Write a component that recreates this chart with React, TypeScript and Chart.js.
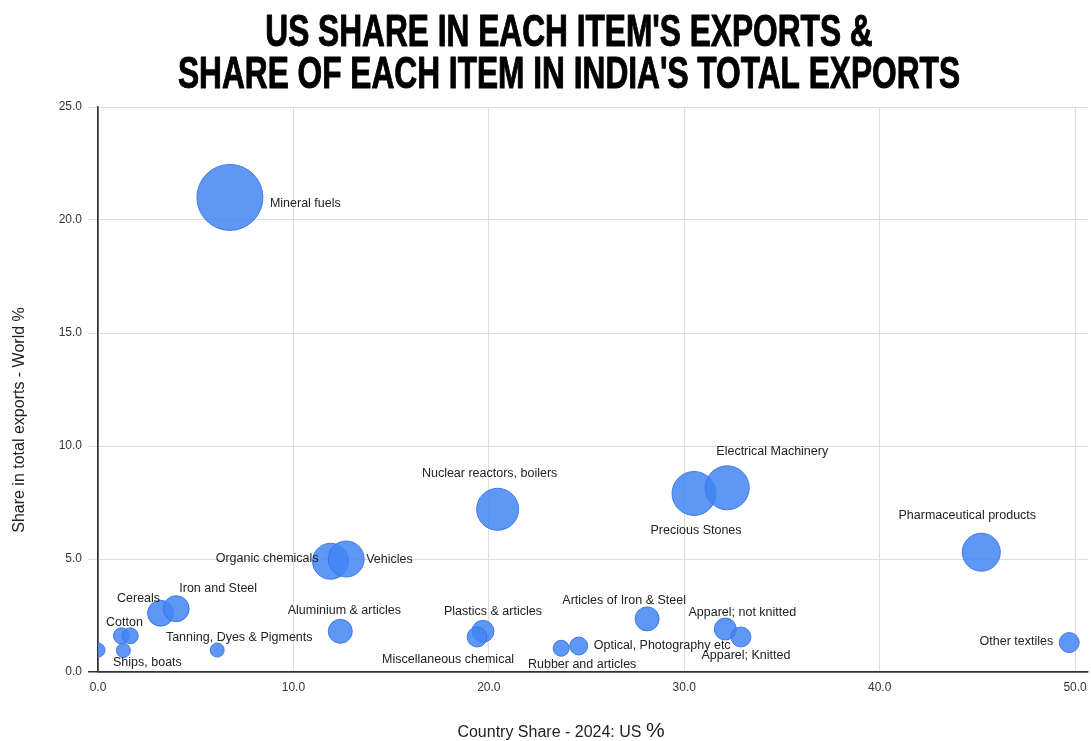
import React, { useEffect, useRef } from 'react';
import { Chart, registerables } from 'chart.js';

Chart.register(...registerables);

const TITLE_LINES = ["US SHARE IN EACH ITEM'S EXPORTS &", "SHARE OF EACH ITEM IN INDIA'S TOTAL EXPORTS"];
const X_TITLE = 'Country Share - 2024: US';
const X_TITLE_UNIT = '%';
const Y_TITLE = 'Share in total exports - World %';

const items = [
  'Mineral fuels',
  'Nuclear reactors, boilers',
  'Precious Stones',
  'Electrical Machinery',
  'Pharmaceutical products',
  'Organic chemicals',
  'Vehicles',
  'Cereals',
  'Iron and Steel',
  'Cotton',
  '',
  'Ships, boats',
  '',
  'Tanning, Dyes & Pigments',
  'Aluminium & articles',
  'Plastics & articles',
  'Miscellaneous chemical',
  'Rubber and articles',
  'Optical, Photography etc',
  'Articles of Iron & Steel',
  'Apparel; not knitted',
  'Apparel; Knitted',
  'Other textiles',
];

// Country share - 2024: US %
const usShare = [6.75, 20.45, 30.5, 32.2, 45.2, 11.9, 12.7, 3.2, 4.0, 1.2, 1.65, 1.3, 0.0, 6.1, 12.4, 19.7, 19.4, 23.7, 24.6, 28.1, 32.1, 32.9, 49.7];
// Share in total exports - World %
const worldShare = [21.0, 7.2, 7.9, 8.15, 5.3, 4.9, 5.0, 2.6, 2.8, 1.6, 1.6, 0.95, 0.97, 0.97, 1.8, 1.8, 1.55, 1.05, 1.15, 2.35, 1.9, 1.55, 1.3];
// relative bubble size
const bubbleSize = [33, 21, 22, 22, 19, 18, 18, 13, 13, 8, 8, 7, 7, 7, 12, 11, 10, 8, 9, 12, 11, 10, 10];

const xTicks = [0, 10, 20, 30, 40, 50];
const yTicks = [0, 5, 10, 15, 20, 25];

// label placement relative to bubble centre: [dx, dy, align]
const labelPlacement: [number, number, CanvasTextAlign][] = [
  [40, 6, 'left'],
  [-8, -36, 'center'],
  [2, 37, 'center'],
  [45, -36, 'center'],
  [-14, -37, 'center'],
  [-12, -3, 'right'],
  [20, 1, 'left'],
  [-22, -15, 'center'],
  [42, -20, 'center'],
  [3, -13, 'center'],
  [0, 0, 'center'],
  [24, 12, 'center'],
  [0, 0, 'center'],
  [22, -13, 'center'],
  [4, -21, 'center'],
  [10, -20, 'center'],
  [-29, 23, 'center'],
  [21, 16, 'center'],
  [15, 0, 'left'],
  [-23, -18, 'center'],
  [17, -17, 'center'],
  [5, 19, 'center'],
  [-16, -1, 'right'],
];

const FONT = '"Liberation Sans", Arial, sans-serif';

const annotPlugin = {
  id: 'annot',
  afterDatasetsDraw(chart: any) {
    const ctx = chart.ctx as CanvasRenderingContext2D;
    const meta = chart.getDatasetMeta(0);
    ctx.save();
    ctx.font = `12.5px ${FONT}`;
    ctx.fillStyle = '#222';
    ctx.textBaseline = 'middle';
    meta.data.forEach((el: any, i: number) => {
      const txt = items[i];
      if (!txt) return;
      const [dx, dy, align] = labelPlacement[i];
      ctx.textAlign = align;
      ctx.fillText(txt, el.x + dx, el.y + dy);
    });
    ctx.restore();
  },
  afterDraw(chart: any) {
    const ctx = chart.ctx as CanvasRenderingContext2D;
    ctx.save();
    // Title (condensed bold)
    ctx.font = `bold 44px "Liberation Sans", Arial, sans-serif`;
    ctx.fillStyle = '#000';
    ctx.textBaseline = 'alphabetic';
    ctx.textAlign = 'center';
    const w2 = ctx.measureText(TITLE_LINES[1]).width;
    const sx = 782 / w2;
    const cx = 569;
    const baselines = [46, 88];
    TITLE_LINES.forEach((line, i) => {
      ctx.save();
      ctx.translate(cx, baselines[i]);
      ctx.scale(sx, 1);
      ctx.lineWidth = 1;
      ctx.strokeStyle = '#000';
      ctx.lineJoin = 'round';
      ctx.strokeText(line, 0, 0);
      ctx.fillText(line, 0, 0);
      ctx.restore();
    });

    // X axis title
    ctx.fillStyle = '#222';
    ctx.textAlign = 'left';
    ctx.font = `16px ${FONT}`;
    const mainW = ctx.measureText(X_TITLE + ' ').width;
    ctx.font = `21px ${FONT}`;
    const unitW = ctx.measureText(X_TITLE_UNIT).width;
    const startX = 561 - (mainW + unitW) / 2;
    ctx.font = `16px ${FONT}`;
    ctx.fillText(X_TITLE + ' ', startX, 737);
    ctx.font = `21px ${FONT}`;
    ctx.fillText(X_TITLE_UNIT, startX + mainW, 737);

    // Y axis title
    ctx.font = `16px ${FONT}`;
    ctx.textAlign = 'center';
    ctx.textBaseline = 'middle';
    ctx.translate(20, 420);
    ctx.rotate(-Math.PI / 2);
    ctx.fillText(Y_TITLE, 0, 0);
    ctx.restore();
  },
};

export default function App() {
  const ref = useRef<HTMLCanvasElement | null>(null);
  useEffect(() => {
    document.body.style.margin = '0';
    const canvas = ref.current!;
    const data = items.map((_, i) => ({ x: usShare[i], y: worldShare[i], r: bubbleSize[i] }));
    const dark = '#333';
    const light = '#dcdcdc';
    const chart = new Chart(canvas, {
      type: 'bubble',
      data: {
        datasets: [
          {
            label: 'Items',
            data,
            backgroundColor: 'rgba(66, 133, 244, 0.85)',
            borderColor: 'rgba(55, 115, 225, 0.9)',
            borderWidth: 1,
          },
        ],
      },
      options: {
        responsive: false,
        animation: false,
        devicePixelRatio: 1,
        layout: { autoPadding: false, padding: { top: 107, left: 0, right: 3, bottom: 0 } },
        plugins: {
          legend: { display: false },
          tooltip: { enabled: false },
          title: { display: false },
        },
        scales: {
          x: {
            type: 'linear',
            min: 0,
            max: 50.66,
            afterBuildTicks: (scale: any) => {
              scale.ticks = xTicks.map((v) => ({ value: v }));
            },
            afterFit: (scale: any) => {
              scale.height = 69;
              scale.paddingLeft = 0;
              scale.paddingRight = 0;
            },
            ticks: {
              font: { family: FONT, size: 12 },
              color: '#333',
              padding: 8,
              maxRotation: 0,
              callback: (v: any) => Number(v).toFixed(1),
            },
            grid: {
              drawTicks: false,
              color: (c: any) => (c.tick && c.tick.value === 0 ? dark : light),
              lineWidth: (c: any) => (c.tick && c.tick.value === 0 ? 1.5 : 1),
            },
            border: { display: true, color: dark, width: 1.5 },
          },
          y: {
            type: 'linear',
            min: 0,
            max: 25,
            afterBuildTicks: (scale: any) => {
              scale.ticks = yTicks.map((v) => ({ value: v }));
            },
            afterFit: (scale: any) => {
              scale.width = 98;
            },
            ticks: {
              font: { family: FONT, size: 12 },
              color: '#333',
              padding: 6,
              callback: (v: any) => Number(v).toFixed(1),
            },
            grid: {
              drawTicks: true,
              tickLength: 10,
              color: (c: any) => (c.tick && c.tick.value === 0 ? dark : light),
              lineWidth: (c: any) => (c.tick && c.tick.value === 0 ? 1.5 : 1),
            },
            border: { display: true, color: dark, width: 1.5 },
          },
        },
      },
      plugins: [annotPlugin],
    });
    return () => chart.destroy();
  }, []);
  return (
    <div style={{ width: 1091, height: 741, background: '#fff' }}>
      <canvas ref={ref} width={1091} height={741} style={{ display: 'block' }} />
    </div>
  );
}
